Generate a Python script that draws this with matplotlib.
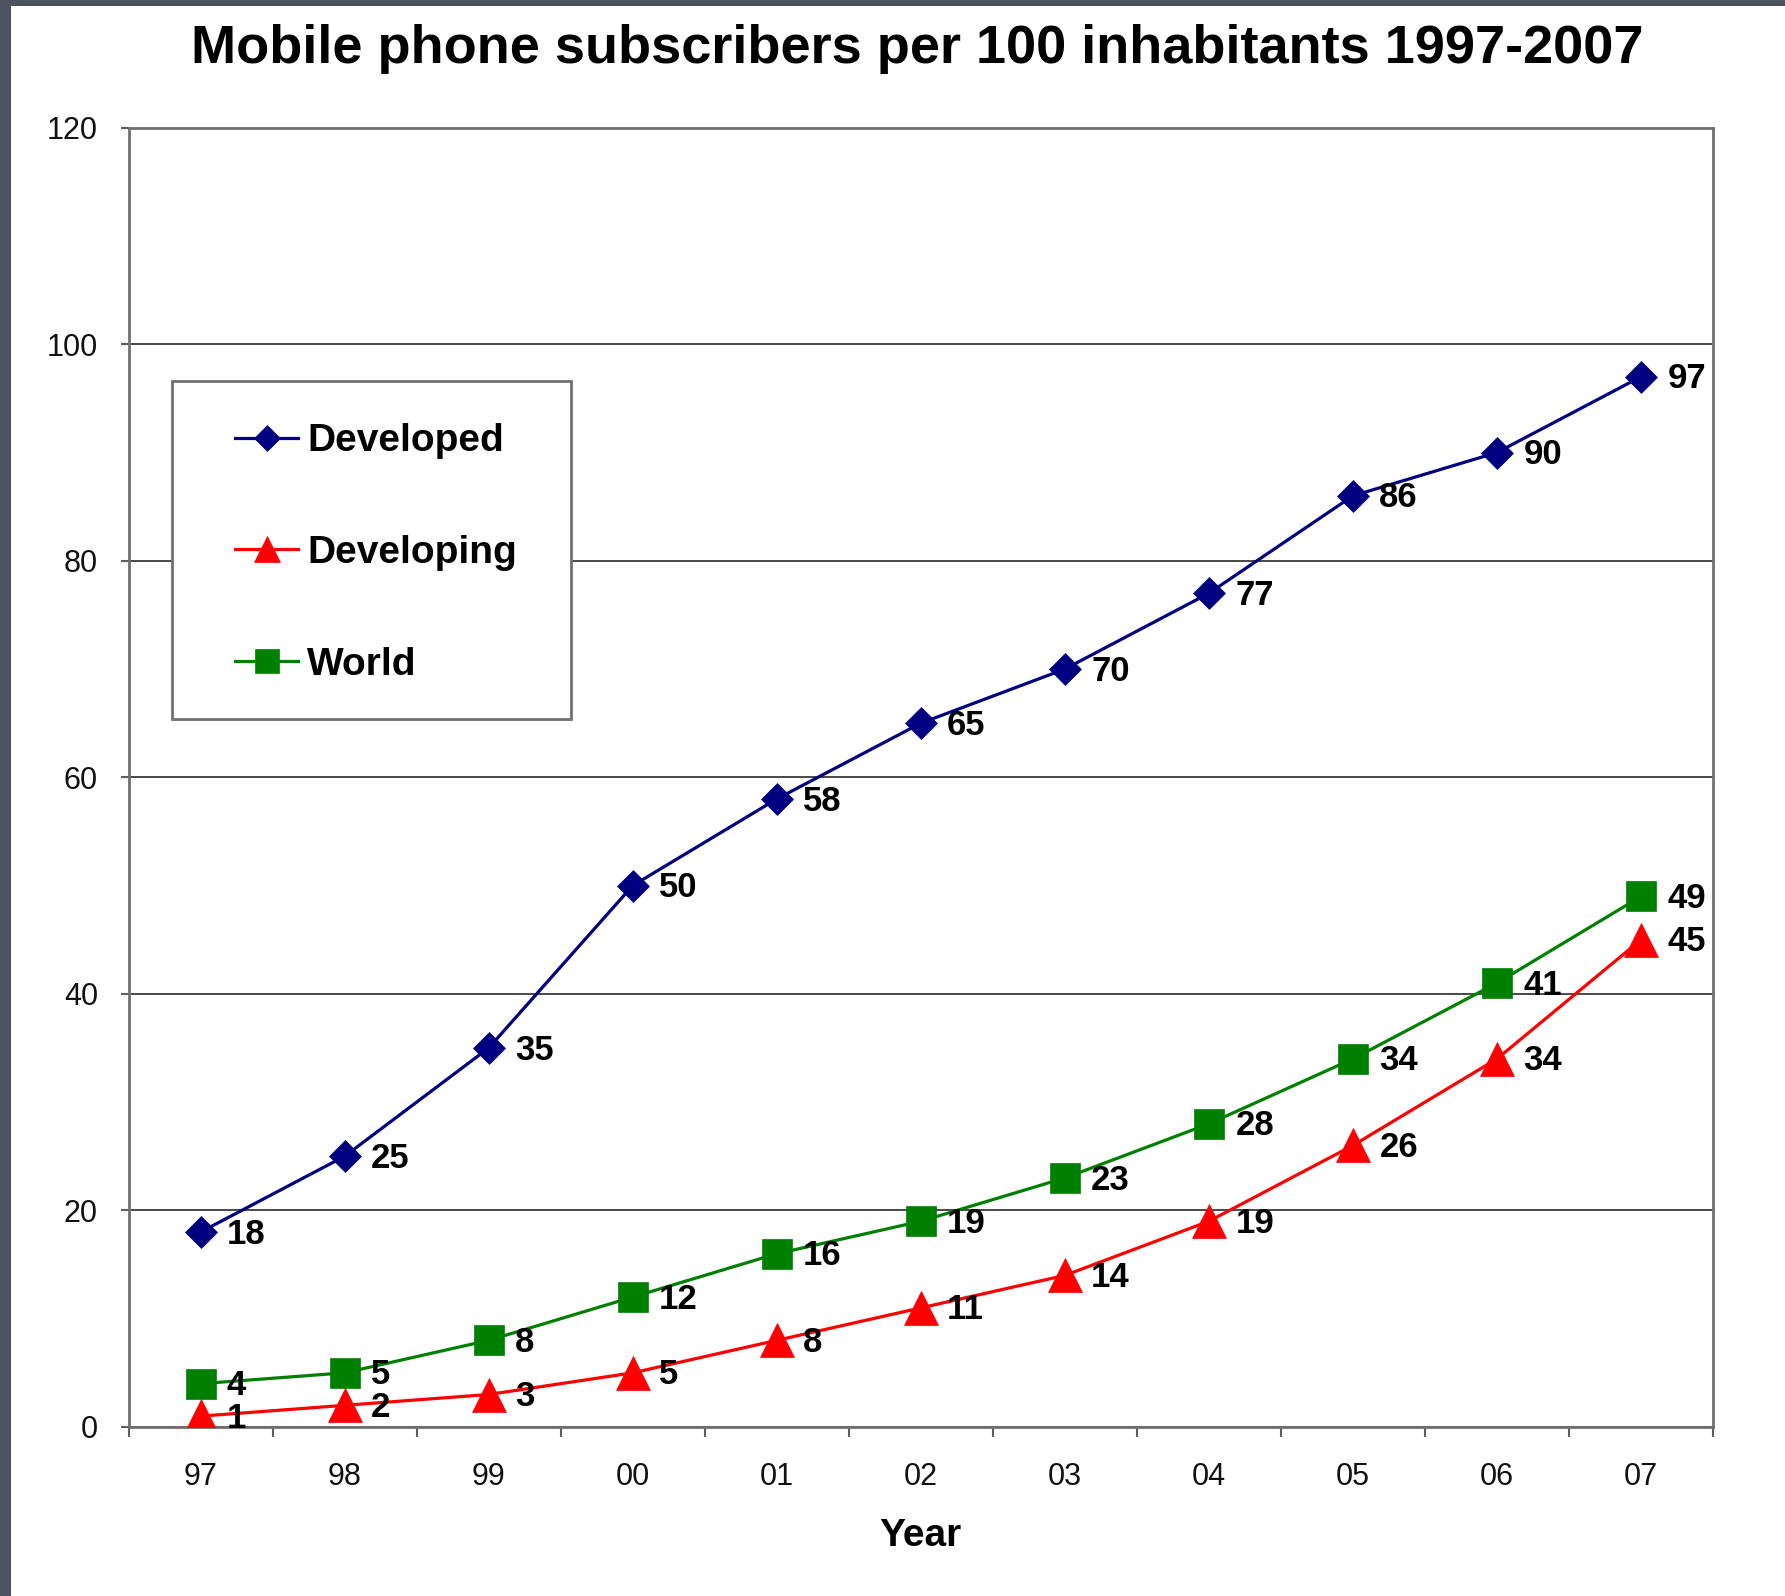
import matplotlib.pyplot as plt
from matplotlib.patches import Rectangle

years = ["97", "98", "99", "00", "01", "02", "03", "04", "05", "06", "07"]
developed = [18, 25, 35, 50, 58, 65, 70, 77, 86, 90, 97]
developing = [1, 2, 3, 5, 8, 11, 14, 19, 26, 34, 45]
world = [4, 5, 8, 12, 16, 19, 23, 28, 34, 41, 49]

plt.rcParams['font.family'] = ['Liberation Sans', 'DejaVu Sans']

fig = plt.figure(figsize=(17.85, 15.96), dpi=100)
fig.patch.set_facecolor("#4d5261")
# white page inside the dark screenshot frame
fig.patches.append(Rectangle((11 / 1785, 0), 1, 1 - 6 / 1596, transform=fig.transFigure,
                             facecolor="white", edgecolor="none", zorder=-10))

ax = fig.add_axes([0.072, 0.1059, 0.8877, 0.8141])
x = list(range(len(years)))

series = [
    ("Developed", developed, "#000080", "D", 16),
    ("Developing", developing, "#ff0000", "^", 24),
    ("World", world, "#008000", "s", 21),
]
for name, vals, col, mk, ms in series:
    ax.plot(x, vals, color=col, lw=2.3, marker=mk, ms=ms, mec=col, mew=0.5,
            label=name, zorder=3)
    for xi, v in zip(x, vals):
        ax.annotate(str(v), (xi, v), xytext=(19, -1.5), textcoords="offset points",
                    ha="left", va="center", fontsize=25, fontweight="bold", zorder=4)

ax.set_xlim(-0.5, len(years) - 0.5)
ax.set_ylim(0, 120)
ax.set_yticks(range(0, 121, 20))
ax.yaxis.grid(True, color="#3a3a3a", lw=1.3)
ax.set_axisbelow(True)

ax.set_xticks([i - 0.5 for i in range(len(years) + 1)])
ax.set_xticklabels([])
ax.set_xticks(x, minor=True)
ax.set_xticklabels(years, minor=True)
ax.tick_params(axis="x", which="major", direction="out", length=7, width=1.5, color="#606060")
ax.tick_params(axis="x", which="minor", length=0, pad=25, labelsize=22, labelcolor="#111111")
ax.tick_params(axis="y", direction="out", length=6, width=1.5, color="#606060",
               labelsize=22, pad=16, labelcolor="#111111")

for s in ax.spines.values():
    s.set_color("#707070")
    s.set_linewidth(2)

ax.set_xlabel("Year", fontsize=28, fontweight="bold", labelpad=19)
fig.text(0.514, 0.969, "Mobile phone subscribers per 100 inhabitants 1997-2007",
         ha="center", va="center", fontsize=39, fontweight="bold")

# legend box drawn separately so its size matches the original
ax.add_patch(Rectangle((0.0274, 0.545), 0.2516, 0.26, transform=ax.transAxes,
                       facecolor="white", edgecolor="#707070", lw=2, zorder=5))
leg = ax.legend(loc="upper left", bbox_to_anchor=(0.0675, 0.7725), frameon=False,
                borderpad=0, borderaxespad=0, labelspacing=1.95,
                handlelength=1.6, handletextpad=0.25, markerscale=0.8,
                prop={"weight": "bold", "size": 28})
leg.set_zorder(6)

fig.savefig("out.png", dpi=100)
